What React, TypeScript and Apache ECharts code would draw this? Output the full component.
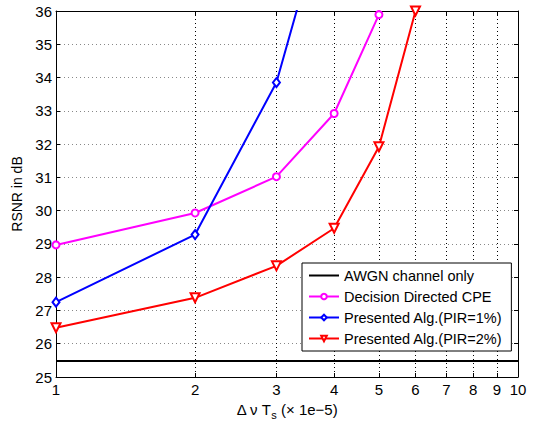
import React, { useEffect, useRef } from "react";
import * as echarts from "echarts";

const xTicks = [1, 2, 3, 4, 5, 6, 7, 8, 9, 10];
const awgnX = [1, 10];
const awgnY = [25.48, 25.48];
const ddX = [1, 2, 3, 4, 5];
const ddY = [28.97, 29.93, 31.02, 32.92, 35.89];
const pir1X = [1, 2, 3, 4];
const pir1Y = [27.25, 29.28, 33.85, 40.0];
const pir2X = [1, 2, 3, 4, 5, 6];
const pir2Y = [26.48, 27.38, 28.34, 29.47, 31.92, 36.0];

const zip = (xs: number[], ys: number[]) => xs.map((x, i) => [x, ys[i]]);

const FONT = "Liberation Sans, Arial, Helvetica, sans-serif";

export default function App() {
  const ref = useRef<HTMLDivElement>(null);
  useEffect(() => {
    document.body.style.margin = "0";
    const chart = echarts.init(ref.current!, null, { renderer: "svg" });
    const tickCommon = { inside: true, length: 4, lineStyle: { color: "#000", width: 1 } };
    chart.setOption({
      animation: false,
      backgroundColor: "#fff",
      textStyle: { fontFamily: FONT },
      grid: { left: 56, top: 11, right: 17, bottom: 44, containLabel: false, outerBoundsMode: "none" },
      legend: {
        orient: "vertical",
        left: 302,
        top: 263,
        backgroundColor: "#fff",
        borderColor: "#000",
        borderWidth: 1,
        borderRadius: 0,
        padding: [5, 9, 5, 6],
        itemWidth: 30,
        itemHeight: 7,
        itemGap: 6,
        textStyle: { fontSize: 14.5, color: "#000", fontFamily: FONT },
        data: [
          { name: "AWGN channel only", icon: "path://M0,0h30v2h-30z" },
          "Decision Directed CPE",
          "Presented Alg.(PIR=1%)",
          "Presented Alg.(PIR=2%)",
        ],
      },
      xAxis: [
        {
          type: "log",
          logBase: 10,
          min: 1,
          max: 10,
          name: "Δ ν T{s|s} (× 1e−5)",
          nameLocation: "middle",
          nameGap: 10,
          nameTextStyle: {
            fontSize: 15,
            color: "#000",
            fontFamily: FONT,
            rich: { s: { fontSize: 11, color: "#000", fontFamily: FONT, padding: [12, 0, 0, 0] } },
          },
          axisLine: { show: true, lineStyle: { color: "#000", width: 1 } },
          axisTick: { ...tickCommon, customValues: xTicks },
          minorTick: { show: false },
          axisLabel: { customValues: xTicks, fontSize: 15, color: "#000", margin: 5, fontFamily: FONT },
          splitLine: { show: true, lineStyle: { color: "#000", type: [1, 3], width: 1 } },
        },
        {
          type: "log",
          logBase: 10,
          min: 1,
          max: 10,
          position: "top",
          axisLine: { show: true, lineStyle: { color: "#000", width: 1 } },
          axisTick: { ...tickCommon, customValues: xTicks },
          axisLabel: { show: false },
          splitLine: { show: false },
        },
      ],
      yAxis: [
        {
          type: "value",
          min: 25,
          max: 36,
          interval: 1,
          name: "RSNR in dB",
          nameLocation: "middle",
          nameGap: 25,
          nameTextStyle: { fontSize: 14, color: "#000", fontFamily: FONT },
          axisLine: { show: true, lineStyle: { color: "#000", width: 1 } },
          axisTick: tickCommon,
          axisLabel: { fontSize: 15, color: "#000", margin: 4, fontFamily: FONT },
          splitLine: { show: true, lineStyle: { color: "#888", type: [1, 3], width: 1 } },
        },
        {
          type: "value",
          min: 25,
          max: 36,
          interval: 1,
          position: "right",
          axisLine: { show: true, lineStyle: { color: "#000", width: 1 } },
          axisTick: tickCommon,
          axisLabel: { show: false },
          splitLine: { show: false },
        },
      ],
      series: [
        {
          name: "AWGN channel only",
          type: "line",
          data: zip(awgnX, awgnY),
          showSymbol: false,
          symbol: "none",
          lineStyle: { color: "#000", width: 2 },
          itemStyle: { color: "#000" },
        },
        {
          name: "Decision Directed CPE",
          type: "line",
          data: zip(ddX, ddY),
          symbol: "emptyCircle",
          symbolSize: 7,
          lineStyle: { color: "#ff00ff", width: 2 },
          itemStyle: { color: "#ff00ff", borderWidth: 2 },
        },
        {
          name: "Presented Alg.(PIR=1%)",
          type: "line",
          data: zip(pir1X, pir1Y),
          symbol: "emptyDiamond",
          symbolSize: [7, 9],
          lineStyle: { color: "#0000ff", width: 2 },
          itemStyle: { color: "#0000ff", borderWidth: 2 },
        },
        {
          name: "Presented Alg.(PIR=2%)",
          type: "line",
          data: zip(pir2X, pir2Y),
          symbol: "emptyTriangle",
          symbolRotate: 180,
          symbolSize: 9,
          lineStyle: { color: "#ff0000", width: 2 },
          itemStyle: { color: "#ff0000", borderWidth: 2 },
        },
      ],
    });
    return () => chart.dispose();
  }, []);
  return (
    <div
      ref={ref}
      style={{ position: "fixed", left: 0, top: 0, width: 535, height: 421 }}
    />
  );
}
